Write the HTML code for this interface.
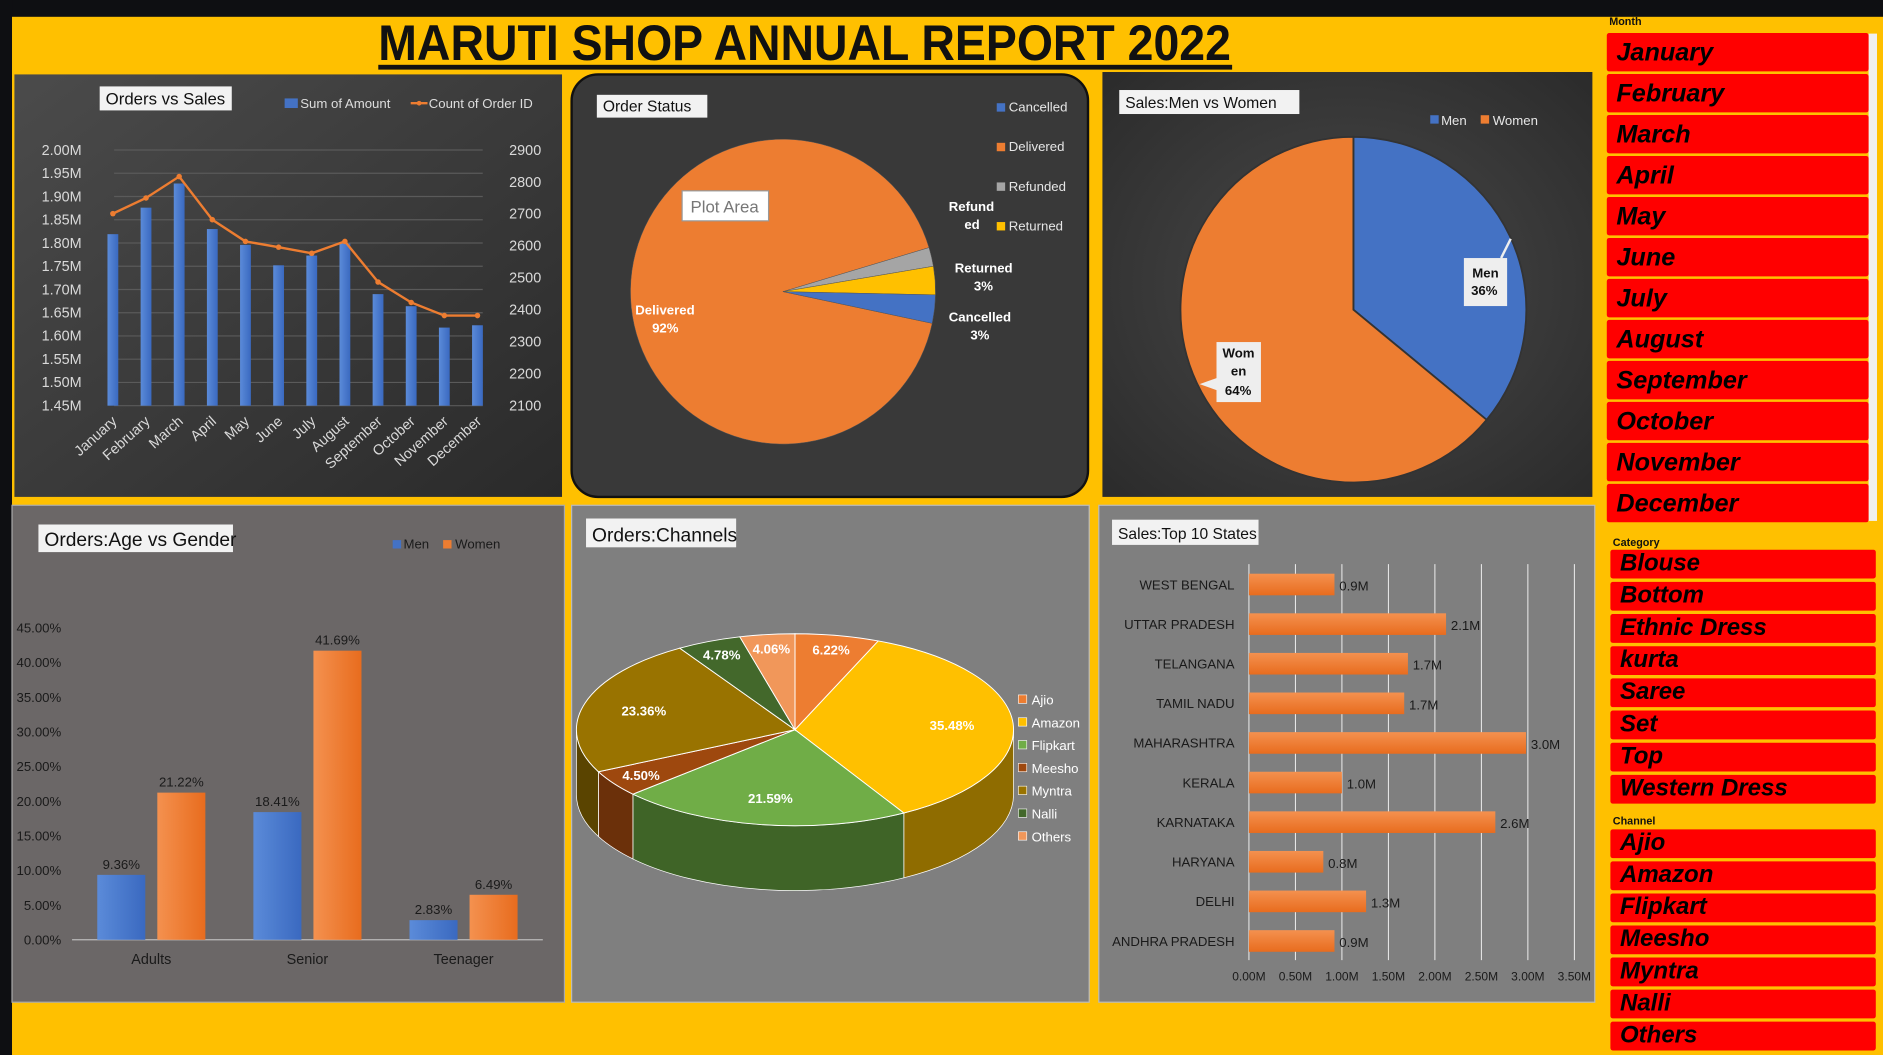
<!DOCTYPE html>
<html><head><meta charset="utf-8">
<style>
html,body{margin:0;padding:0;background:#FFC000;overflow:hidden}
svg{display:block;font-family:"Liberation Sans",sans-serif}
</style></head>
<body>
<svg id="root" width="1883" height="1055" viewBox="0 0 1568 879" preserveAspectRatio="none" xmlns="http://www.w3.org/2000/svg">
<defs>
<linearGradient id="gDark" x1="0" y1="0" x2="1" y2="1"><stop offset="0" stop-color="#4b4b4b"/><stop offset="1" stop-color="#2a2a2a"/></linearGradient>
<radialGradient id="gDark2" cx="0.5" cy="0.5" r="0.7"><stop offset="0" stop-color="#4a4a4a"/><stop offset="1" stop-color="#2b2b2b"/></radialGradient>
<linearGradient id="gBarO" x1="0" y1="0" x2="0" y2="1"><stop offset="0" stop-color="#F4914F"/><stop offset="1" stop-color="#E86C1E"/></linearGradient>
<linearGradient id="gBarOv" x1="0" y1="0" x2="1" y2="0"><stop offset="0" stop-color="#F4914F"/><stop offset="1" stop-color="#E86C1E"/></linearGradient>
<linearGradient id="gBarB" x1="0" y1="0" x2="1" y2="0"><stop offset="0" stop-color="#5B8BD9"/><stop offset="1" stop-color="#3A69C0"/></linearGradient>
</defs>
<rect x="0" y="0" width="1568" height="879" fill="#FFC000"/>
<g id="sheetHeader">
<rect x="0" y="0" width="1568" height="14" fill="#0e0f12"/>
<rect x="0" y="0" width="10" height="879" fill="#0e0f12"/>
</g>
<text x="670" y="50" text-anchor="middle" font-size="42" font-weight="bold" fill="#111" textLength="710" lengthAdjust="spacingAndGlyphs">MARUTI SHOP ANNUAL REPORT 2022</text>
<rect x="315" y="54" width="711" height="4" fill="#111"/>

<!-- panels -->
<rect x="12" y="62" width="456" height="352" fill="url(#gDark)"/>
<rect x="476" y="62" width="430" height="352" rx="22" fill="#393939" stroke="#111" stroke-width="2"/>
<rect x="918" y="60" width="408" height="354" fill="url(#gDark2)"/>
<rect x="10" y="421" width="460" height="414" fill="#6b6767" stroke="#aaa"/>
<rect x="476" y="421" width="431" height="414" fill="#7f7f7f" stroke="#bbb"/>
<rect x="915" y="421" width="413" height="414" fill="#7f7f7f" stroke="#bbb"/>

<g id="c1"></g><g id="c2"></g><g id="c3"></g><g id="c4"></g><g id="c5"></g><g id="c6"></g><g id="slicers"></g>
</svg>
<script>
// ---------- data ----------
const months = ["January","February","March","April","May","June","July","August","September","October","November","December"];
const salesM = [1.819,1.876,1.928,1.830,1.796,1.752,1.773,1.799,1.690,1.664,1.618,1.623];
const orderCount = [2701,2750,2817,2682,2614,2596,2577,2614,2487,2423,2382,2382];
const leftTicks = [1.45,1.50,1.55,1.60,1.65,1.70,1.75,1.80,1.85,1.90,1.95,2.00];
const rightTicks = [2100,2200,2300,2400,2500,2600,2700,2800,2900];

const statusLabels = ["Delivered","Refunded","Returned","Cancelled"];
const statusValues = [92,2,3,3];

const genderLabels = ["Men","Women"];
const genderValues = [36,64];

const ageCats = ["Adults","Senior","Teenager"];
const ageMen = [9.36,18.41,2.83];
const ageWomen = [21.22,41.69,6.49];
const ageTicks = [0,5,10,15,20,25,30,35,40,45];

const channels = ["Ajio","Amazon","Flipkart","Meesho","Myntra","Nalli","Others"];
const channelValues = [6.22,35.48,21.59,4.50,23.36,4.78,4.06];

const states = ["WEST BENGAL","UTTAR PRADESH","TELANGANA","TAMIL NADU","MAHARASHTRA","KERALA","KARNATAKA","HARYANA","DELHI","ANDHRA PRADESH"];
const stateValues = [0.92,2.12,1.71,1.67,2.98,1.0,2.65,0.8,1.26,0.92];
const stateTicks = [0,0.5,1,1.5,2,2.5,3,3.5];

const categories = ["Blouse","Bottom","Ethnic Dress","kurta","Saree","Set","Top","Western Dress"];

// ---------- helpers ----------
const NS="http://www.w3.org/2000/svg";
function mk(tag,attrs,parent,text){const e=document.createElementNS(NS,tag);for(const k in attrs)e.setAttribute(k,attrs[k]);if(text!==undefined)e.textContent=text;parent.appendChild(e);return e;}
function txt(parent,x,y,s,size,fill,extra){const a=Object.assign({x:x,y:y,"font-size":size,fill:fill},extra||{});return mk("text",a,parent,s);}
function sector(cx,cy,r,a0,a1){const x0=cx+r*Math.cos(a0),y0=cy+r*Math.sin(a0),x1=cx+r*Math.cos(a1),y1=cy+r*Math.sin(a1);const l=(a1-a0)>Math.PI?1:0;return `M${cx},${cy}L${x0},${y0}A${r},${r} 0 ${l} 1 ${x1},${y1}Z`;}
function titleBox(parent,x,y,w,h,s,size,name){const g=mk("g",{},parent);mk("rect",{x:x,y:y,width:w,height:h,fill:"#f2f2f2"},g);txt(g,x+5,y+h-5,s,size,"#111");}

// ---------- chart 1: Orders vs Sales ----------
(function(){
const g=document.getElementById("c1");
titleBox(g,83,72,110,20,"Orders vs Sales",14,"orders-vs-sales-title");
const lg=mk("g",{},g);
mk("rect",{x:237,y:82,width:11,height:8,fill:"#4472C4"},lg);txt(lg,250,90,"Sum of Amount",11,"#ddd");
mk("line",{x1:342,y1:86,x2:356,y2:86,stroke:"#ED7D31","stroke-width":2},lg);mk("circle",{cx:349,cy:86,r:2,fill:"#ED7D31"},lg);txt(lg,357,90,"Count of Order ID",11,"#ddd");
const y0=338,y1=125;
const yL=v=>y0-(v-1.45)/(2.00-1.45)*(y0-y1);
const yR=v=>y0-(v-2100)/(2900-2100)*(y0-y1);
const xC=i=>94+i*27.6;
leftTicks.forEach(t=>{const l=mk("line",{x1:95,x2:402,y1:yL(t),y2:yL(t),stroke:"#5a5a5a","stroke-width":1},g);
const tt=txt(g,68,yL(t)+4,t.toFixed(2)+"M",12,"#d9d9d9",{"text-anchor":"end"});});
rightTicks.forEach(t=>{const tt=txt(g,424,yR(t)+4,String(t),12,"#d9d9d9");});
salesM.forEach((v,i)=>{const r=mk("rect",{x:xC(i)-4.5,y:yL(v),width:9,height:y0-yL(v),fill:"url(#gBarB)"},g);});
const pts=orderCount.map((v,i)=>xC(i)+","+yR(v)).join(" ");
const pl=mk("polyline",{points:pts,fill:"none",stroke:"#ED7D31","stroke-width":2},g);
orderCount.forEach((v,i)=>{const c=mk("circle",{cx:xC(i),cy:yR(v),r:2.3,fill:"#ED7D31"},g);});
months.forEach((m,i)=>{const t=txt(g,xC(i)+4,352,m,12,"#d9d9d9",{"text-anchor":"end",transform:`rotate(-42 ${xC(i)+4} 352)`});});
})();

// ---------- chart 2: Order Status ----------
(function(){
const g=document.getElementById("c2");
titleBox(g,497,79,92,19,"Order Status",13,"order-status-title");
const cols={Delivered:"#ED7D31",Refunded:"#A5A5A5",Returned:"#FFC000",Cancelled:"#4472C4"};
const cx=652,cy=243,r=127;
const tot=statusValues.reduce((a,b)=>a+b,0);
let a=12*Math.PI/180+0; // start at bottom of wedge, going clockwise through Delivered
statusValues.forEach((v,i)=>{const d=v/tot*2*Math.PI;const p=mk("path",{d:sector(cx,cy,r,a,a+d),fill:cols[statusLabels[i]],stroke:"#555","stroke-width":0.4},g);a+=d;});
const lg=mk("g",{},g);
["Cancelled","Delivered","Refunded","Returned"].forEach((s,i)=>{mk("rect",{x:830,y:86+i*33,width:7,height:7,fill:cols[s]},lg);txt(lg,840,93+i*33,s,11,"#e6e6e6");});
const lb=mk("g",{"font-weight":"bold"},g);
const idx=s=>statusValues[statusLabels.indexOf(s)];
txt(lb,790,176,"Refund",11,"#fff");txt(lb,803,191,"ed",11,"#fff");
txt(lb,795,227,"Returned",11,"#fff");txt(lb,811,242,idx("Returned")+"%",11,"#fff");
txt(lb,790,268,"Cancelled",11,"#fff");txt(lb,808,283,idx("Cancelled")+"%",11,"#fff");
txt(lb,529,262,"Delivered",11,"#fff");txt(lb,543,277,idx("Delivered")+"%",11,"#fff");
const tip=mk("g",{},g);
mk("rect",{x:568,y:159,width:72,height:25,fill:"#fff",stroke:"#999"},tip);txt(tip,575,177,"Plot Area",14,"#777");
})();

// ---------- chart 3: Men vs Women ----------
(function(){
const g=document.getElementById("c3");
titleBox(g,932,75,150,20,"Sales:Men vs Women",13,"men-vs-women-title");
const cols=["#4472C4","#ED7D31"];
const lg=mk("g",{},g);
mk("rect",{x:1191,y:96,width:7,height:7,fill:cols[0]},lg);txt(lg,1200,104,"Men",11,"#e6e6e6");
mk("rect",{x:1233,y:96,width:7,height:7,fill:cols[1]},lg);txt(lg,1243,104,"Women",11,"#e6e6e6");
const cx=1127,cy=258,r=144;const tot=genderValues.reduce((a,b)=>a+b,0);
let a=-Math.PI/2;
genderValues.forEach((v,i)=>{const d=v/tot*2*Math.PI;const p=mk("path",{d:sector(cx,cy,r,a,a+d),fill:cols[i],stroke:"#333","stroke-width":1.5},g);a+=d;});
const l1=mk("g",{"font-weight":"bold"},g);
mk("rect",{x:1219,y:215,width:36,height:40,fill:"#eee"},l1);mk("line",{x1:1250,y1:215,x2:1258,y2:199,stroke:"#eee","stroke-width":2},l1);
txt(l1,1226,231,"Men",11,"#111");txt(l1,1225,246,genderValues[0]+"%",11,"#111");
const l2=mk("g",{"font-weight":"bold"},g);
mk("rect",{x:1013,y:285,width:37,height:50,fill:"#eee"},l2);mk("path",{d:"M1013,315L999,320L1013,325Z",fill:"#eee"},l2);
txt(l2,1018,298,"Wom",11,"#111");txt(l2,1025,313,"en",11,"#111");txt(l2,1020,329,genderValues[1]+"%",11,"#111");
})();

// ---------- chart 4: Age vs Gender ----------
(function(){
const g=document.getElementById("c4");
titleBox(g,32,437,162,23,"Orders:Age vs Gender",16,"age-gender-title");
const lg=mk("g",{},g);
mk("rect",{x:327,y:450,width:7,height:7,fill:"#4472C4"},lg);txt(lg,336,457,"Men",11,"#1a1a1a");
mk("rect",{x:369,y:450,width:7,height:7,fill:"#ED7D31"},lg);txt(lg,379,457,"Women",11,"#1a1a1a");
const y0=783,ytop=523;const y=v=>y0-v/45*(y0-ytop);
ageTicks.forEach(t=>{const tt=txt(g,51,y(t)+4,t.toFixed(2)+"%",11,"#1a1a1a",{"text-anchor":"end"});});
mk("line",{x1:60,x2:452,y1:y0,y2:y0,stroke:"#bbb"},g);
const xc=i=>126+i*130;
ageCats.forEach((c,i)=>{
const r1=mk("rect",{x:xc(i)-45,y:y(ageMen[i]),width:40,height:y0-y(ageMen[i]),fill:"url(#gBarB)"},g);
const r2=mk("rect",{x:xc(i)+5,y:y(ageWomen[i]),width:40,height:y0-y(ageWomen[i]),fill:"url(#gBarOv)"},g);
const t1=txt(g,xc(i)-25,y(ageMen[i])-5,ageMen[i].toFixed(2)+"%",11,"#1a1a1a",{"text-anchor":"middle"});
const t2=txt(g,xc(i)+25,y(ageWomen[i])-5,ageWomen[i].toFixed(2)+"%",11,"#1a1a1a",{"text-anchor":"middle"});
const t3=txt(g,xc(i),803,c,12,"#1a1a1a",{"text-anchor":"middle"});
});
})();

// ---------- chart 5: Channels (3D pie) ----------
(function(){
const g=document.getElementById("c5");
titleBox(g,488,432,125,24,"Orders:Channels",16,"channels-title");
const top=["#ED7D31","#FFC000","#70AD47","#9E480E","#997300","#43682B","#F1975A"];
const side=["#A9561F","#8F6C00","#3F6427","#6B300A","#5A4400","#263C18","#B0683B"];
const cx=662,cy=608,rx=182,ry=80,dp=54;
const P=(t,dy)=>[cx+rx*Math.cos(t),cy+ry*Math.sin(t)+(dy||0)];
const tot=channelValues.reduce((a,b)=>a+b,0);
let a=-Math.PI/2;const seg=[];
channelValues.forEach((v,i)=>{const d=v/tot*2*Math.PI;seg.push([a,a+d]);a+=d;});
// sides
seg.forEach((s,i)=>{const s0=Math.max(s[0],0),s1=Math.min(s[1],Math.PI);if(s1<=s0)return;
const p0=P(s0),p1=P(s1);const d=`M${p0[0]},${p0[1]}A${rx},${ry} 0 0 1 ${p1[0]},${p1[1]}L${p1[0]},${p1[1]+dp}A${rx},${ry} 0 0 0 ${p0[0]},${p0[1]+dp}Z`;
const p=mk("path",{d:d,fill:side[i],stroke:"#fff","stroke-width":0.6},g);});
// tops
seg.forEach((s,i)=>{const p0=P(s[0]),p1=P(s[1]);const l=(s[1]-s[0])>Math.PI?1:0;
const p=mk("path",{d:`M${cx},${cy}L${p0[0]},${p0[1]}A${rx},${ry} 0 ${l} 1 ${p1[0]},${p1[1]}Z`,fill:top[i],stroke:"#fff","stroke-width":0.8},g);
const m=(s[0]+s[1])/2;const f=(channelValues[i]>10)?0.72:0.85;const lx=cx+rx*f*Math.cos(m),ly=cy+ry*f*Math.sin(m)+4;
const t=txt(g,lx,ly,channelValues[i].toFixed(2)+"%",11,"#fff",{"text-anchor":"middle","font-weight":"bold"});});
const lg=mk("g",{},g);
channels.forEach((c,i)=>{mk("rect",{x:848,y:579+i*19,width:7,height:7,fill:top[i],stroke:"#fff","stroke-width":0.5},lg);txt(lg,859,587+i*19,c,11,"#fff");});
})();

// ---------- chart 6: Top 10 States ----------
(function(){
const g=document.getElementById("c6");
titleBox(g,926,433,122,21,"Sales:Top 10 States",13,"states-title");
const x0=1040,x=v=>x0+v/3.5*(1311-x0);
stateTicks.forEach(t=>{const l=mk("line",{x1:x(t),x2:x(t),y1:470,y2:800,stroke:"#f2f2f2","stroke-width":0.8},g);
const tt=txt(g,x(t),817,t.toFixed(2)+"M",10,"#1a1a1a",{"text-anchor":"middle"});});
states.forEach((s,i)=>{const yc=487+i*33;
const r=mk("rect",{x:x0,y:yc-9,width:x(stateValues[i])-x0,height:18,fill:"url(#gBarO)"},g);
const t=txt(g,1028,yc+4,s,11,"#1a1a1a",{"text-anchor":"end"});
const v=txt(g,x(stateValues[i])+4,yc+5,stateValues[i].toFixed(1)+"M",11,"#1a1a1a");});
})();

// ---------- slicers ----------
(function(){
const g=document.getElementById("slicers");
mk("rect",{x:1556,y:28,width:7,height:406,fill:"#f0f0f0"},g);
function slicer(title,items,x,y0,w,h,step,fs,hy,name){
const sg=mk("g",{},g);
txt(sg,x+2,hy,title,9,"#111",{"font-weight":"bold"});
items.forEach((it,i)=>{const b=mk("g",{},sg);
mk("rect",{x:x,y:y0+i*step,width:w,height:h,rx:2,fill:"#FF0000"},b);
txt(b,x+8,y0+i*step+h*0.72,it,fs,"#000",{"font-weight":"bold","font-style":"italic"});});
}
slicer("Month",months,1338,27.5,218,32,34.15,21,21,"month-slicer");
slicer("Category",categories,1341,458,221,24,26.8,20,455,"category-slicer");
slicer("Channel",channels,1341,691,221,24,26.7,20,687,"channel-slicer");
})();
</script>
</body></html>
